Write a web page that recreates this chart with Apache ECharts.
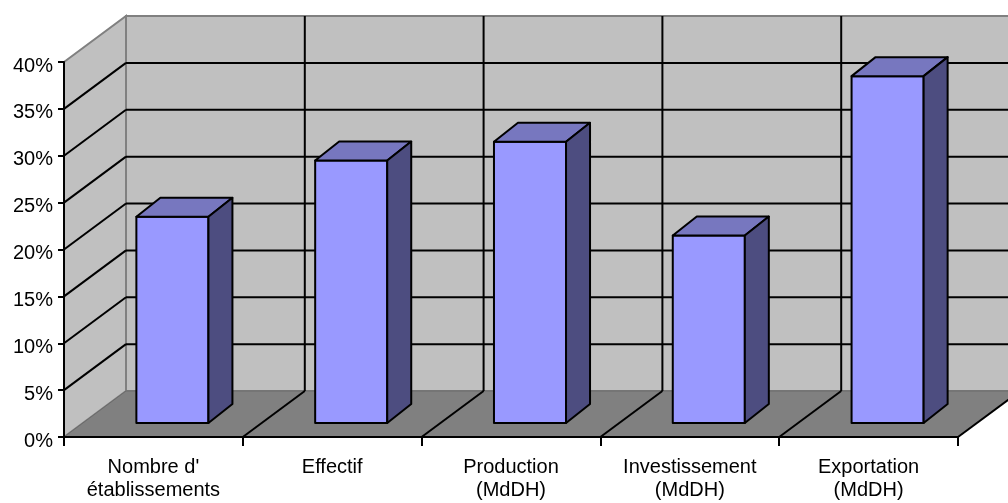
<!DOCTYPE html>
<html>
<head>
<meta charset="utf-8">
<script src="https://cdn.jsdelivr.net/npm/echarts@6/dist/echarts.min.js"></script>
<style>
  html, body { margin: 0; padding: 0; background: #fff; }
  #chart { width: 1008px; height: 503px; }
</style>
</head>
<body>
<div id="chart"></div>
<script>
var categories = ["Nombre d'\nétablissements", 'Effectif', 'Production\n(MdDH)', 'Investissement\n(MdDH)', 'Exportation\n(MdDH)'];
var values = [22, 28, 30, 20, 37];
var yMax = 40;
var yStep = 5;

// depth of the 3d box and of the bars (pixels)
var DX = 62, DY = -46;
var BX0 = 19, BY0 = -14, BX1 = 43, BY1 = -33;

var black = '#000';
var edge = '#808080';

function renderWalls(params, api) {
    var band = api.size([1, 0])[0];
    var p0 = api.coord([0, 0]);
    var left = p0[0] - band / 2;
    var right = left + band * categories.length;
    var y0 = p0[1];
    var yTop = api.coord([0, yMax])[1];
    var kids = [];

    // back wall
    kids.push({type: 'rect', shape: {x: left + DX, y: yTop + DY, width: right - left, height: y0 - yTop},
        style: {fill: '#C0C0C0', stroke: edge, lineWidth: 2}});
    // side wall
    kids.push({type: 'polygon', shape: {points: [[left, yTop], [left + DX, yTop + DY], [left + DX, y0 + DY], [left, y0]]},
        style: {fill: '#C0C0C0', stroke: edge, lineWidth: 2}});
    // floor
    kids.push({type: 'polygon', shape: {points: [[left, y0], [right, y0], [right + DX, y0 + DY], [left + DX, y0 + DY]]},
        style: {fill: '#808080', stroke: '#6a6a6a', lineWidth: 1}});

    // horizontal grid on back wall + diagonals on side wall
    for (var v = yStep; v < yMax; v += yStep) {
        var y = api.coord([0, v])[1];
        kids.push({type: 'line', shape: {x1: left + DX, y1: y + DY, x2: right + DX, y2: y + DY},
            style: {stroke: black, lineWidth: 2}});
        kids.push({type: 'line', shape: {x1: left, y1: y, x2: left + DX, y2: y + DY},
            style: {stroke: black, lineWidth: 2}});
    }
    // vertical lines on back wall + diagonals on floor
    for (var i = 1; i <= categories.length; i++) {
        var x = left + band * i;
        if (i < categories.length) {
            kids.push({type: 'line', shape: {x1: x + DX, y1: yTop + DY, x2: x + DX, y2: y0 + DY},
                style: {stroke: black, lineWidth: 2}});
        }
        kids.push({type: 'line', shape: {x1: x, y1: y0, x2: x + DX, y2: y0 + DY},
            style: {stroke: black, lineWidth: 2}});
    }
    return {type: 'group', children: kids};
}

function renderBar(params, api) {
    var idx = api.value(0);
    var band = api.size([1, 0])[0];
    var w = band * 0.403;
    var base = api.coord([idx, 0]);
    var top = api.coord([idx, api.value(1)]);
    var x0 = base[0] - w / 2 + BX0;
    var x1 = x0 + w;
    var yb = base[1] + BY0;
    var yt = top[1] + BY0;
    var ddx = BX1 - BX0, ddy = BY1 - BY0;
    var st = {stroke: black, lineWidth: 2, lineJoin: 'round'};
    return {type: 'group', children: [
        {type: 'polygon', shape: {points: [[x0, yt], [x1, yt], [x1, yb], [x0, yb]]},
            style: Object.assign({fill: '#9999FF'}, st)},
        {type: 'polygon', shape: {points: [[x0, yt], [x1, yt], [x1 + ddx, yt + ddy], [x0 + ddx, yt + ddy]]},
            style: Object.assign({fill: '#7777BF'}, st)},
        {type: 'polygon', shape: {points: [[x1, yt], [x1 + ddx, yt + ddy], [x1 + ddx, yb + ddy], [x1, yb]]},
            style: Object.assign({fill: '#4D4D80'}, st)}
    ]};
}

var chart = echarts.init(document.getElementById('chart'));
var option = {
    animation: false,
    grid: {left: 64, right: 50, top: 62, bottom: 66},
    xAxis: {
        type: 'category',
        data: categories,
        z: 10,
        axisLine: {lineStyle: {color: black, width: 2}},
        axisTick: {show: true, length: 9, lineStyle: {color: black, width: 2}},
        axisLabel: {color: black, fontFamily: 'Liberation Sans', fontSize: 20, lineHeight: 23, margin: 19, interval: 0},
        splitLine: {show: false}
    },
    yAxis: {
        type: 'value',
        min: 0,
        max: yMax,
        interval: yStep,
        z: 10,
        axisLine: {show: true, lineStyle: {color: black, width: 2}},
        axisTick: {show: true, length: 6, lineStyle: {color: black, width: 2}},
        axisLabel: {color: black, fontFamily: 'Liberation Sans', fontSize: 20, margin: 11, verticalAlign: 'top', lineHeight: 8, formatter: '{value}%'},
        splitLine: {show: false}
    },
    series: [
        {type: 'custom', z: 1, silent: true, data: [[0, 0]], renderItem: renderWalls},
        {type: 'custom', z: 3, data: values.map(function (v, i) { return [i, v]; }), encode: {x: 0, y: 1}, renderItem: renderBar}
    ]
};
chart.setOption(option);
</script>
</body>
</html>
